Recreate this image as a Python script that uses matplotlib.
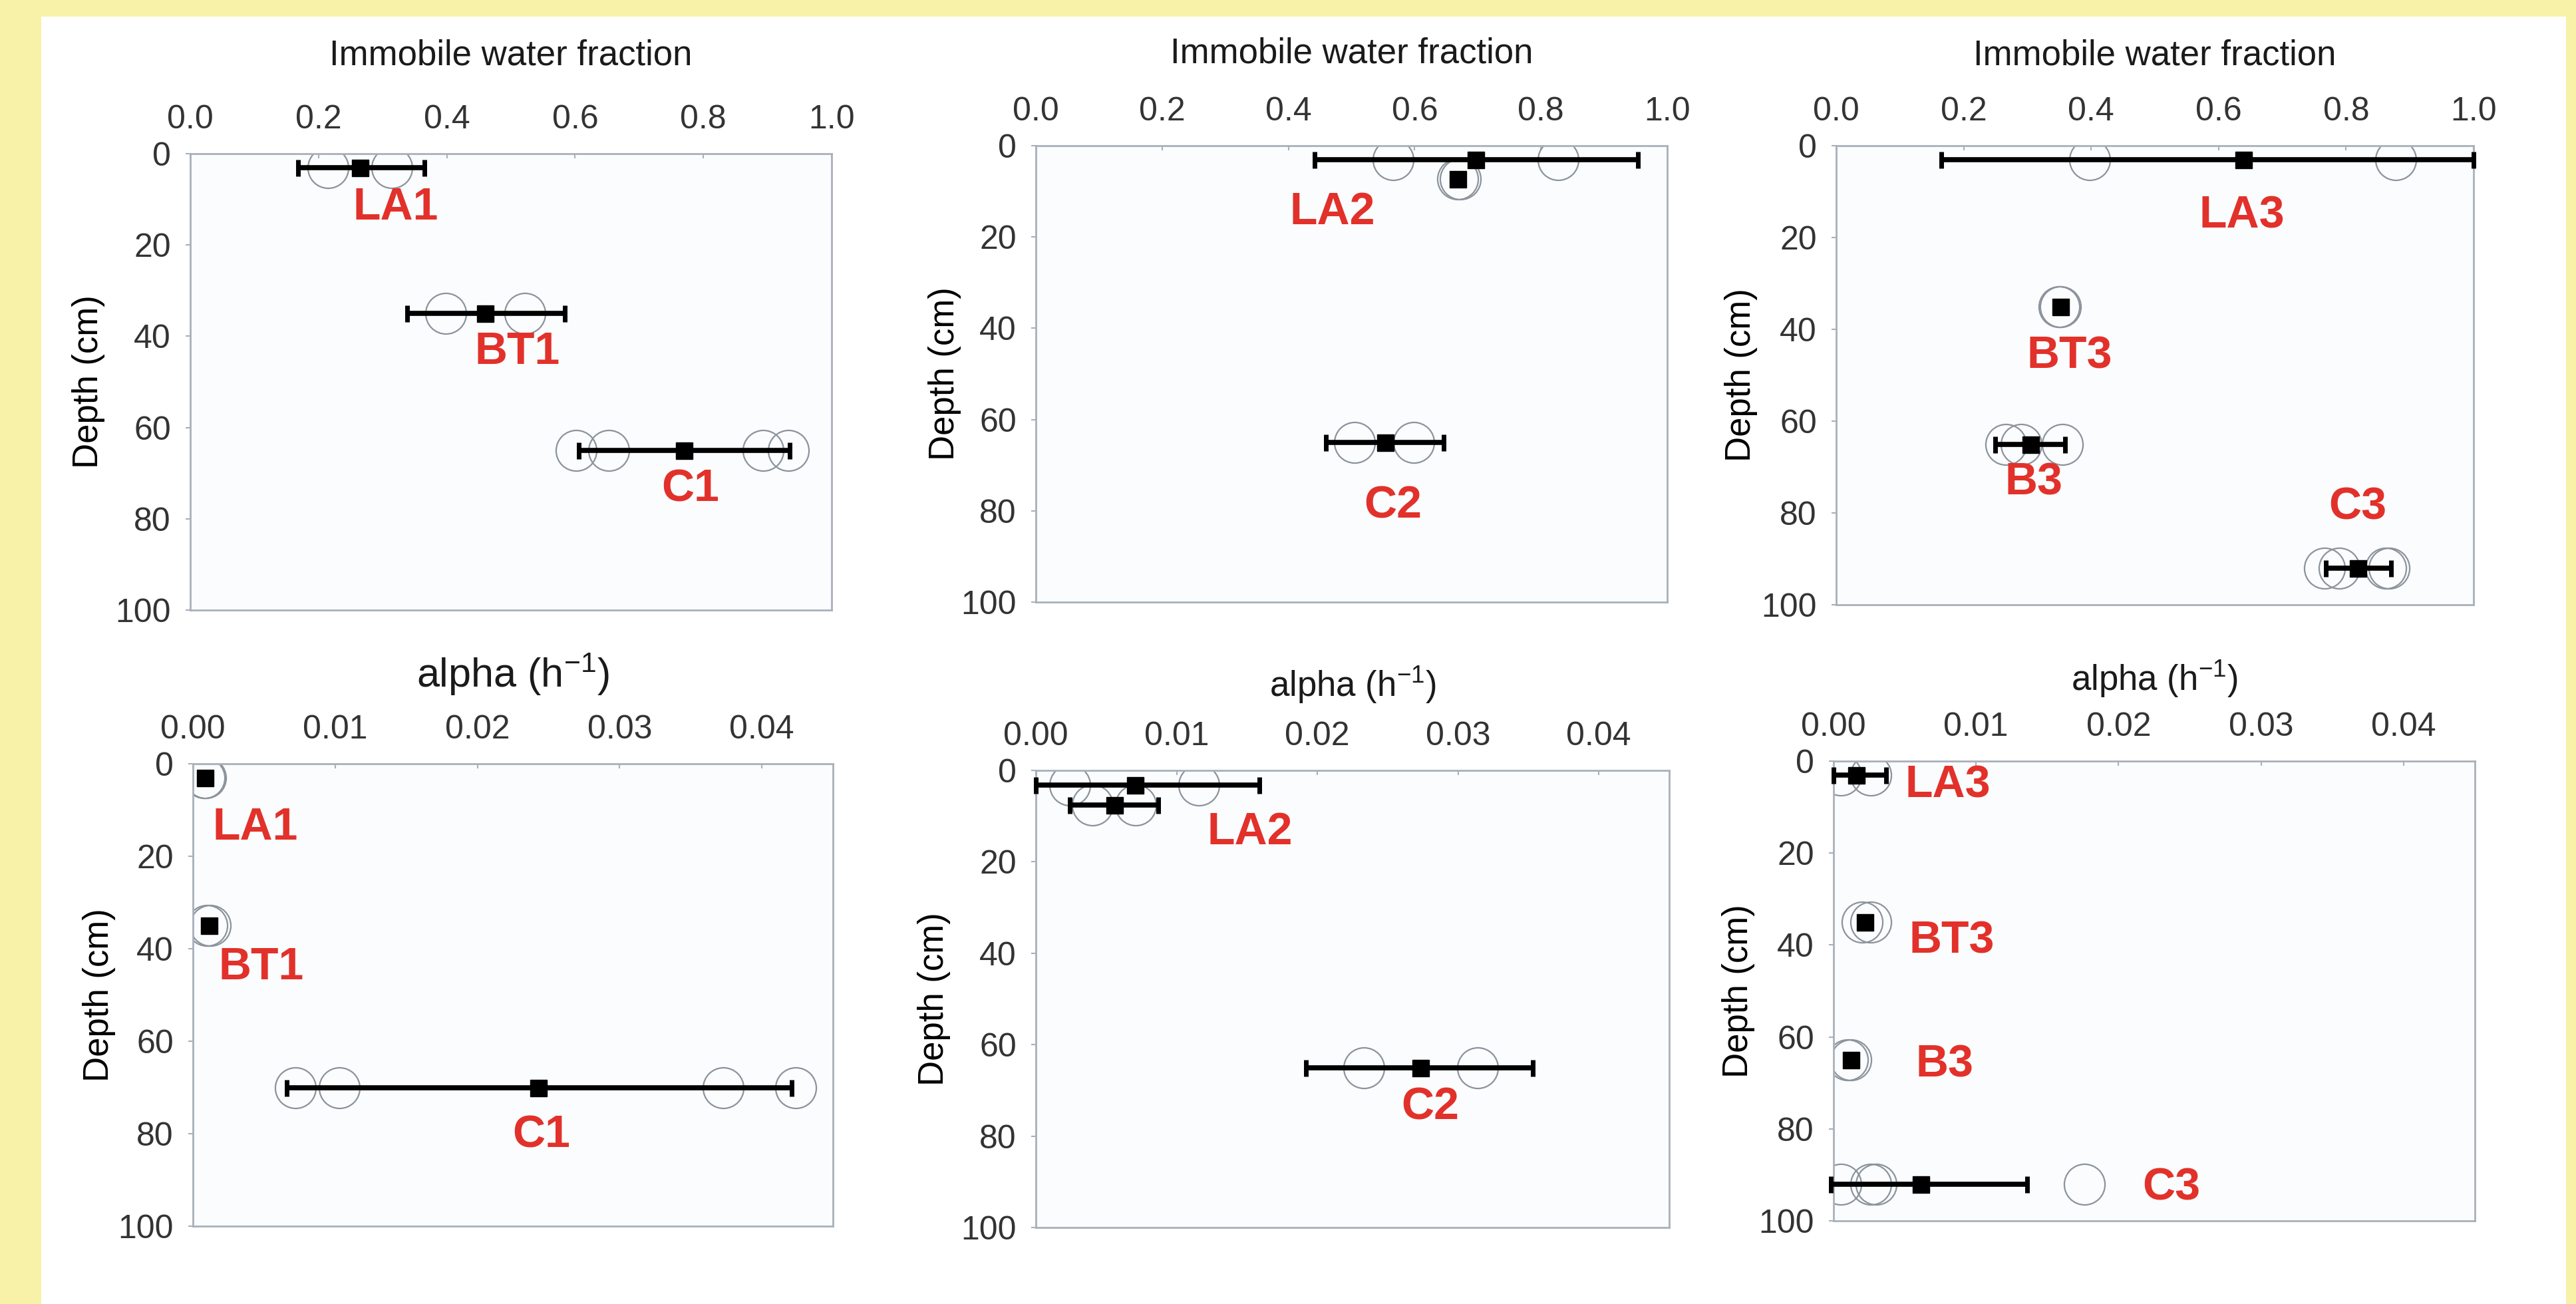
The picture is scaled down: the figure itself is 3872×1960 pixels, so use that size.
import matplotlib.pyplot as plt
from matplotlib.patches import Rectangle
from matplotlib.ticker import FormatStrFormatter

W, H = 3873, 1960
DPI = 100

# --- immobile water fraction (top row) ---
depth_1 = [3, 35, 65]
imf_1 = [0.265, 0.46, 0.77]
imf_lo_1 = [0.168, 0.338, 0.606]
imf_hi_1 = [0.365, 0.584, 0.935]
imf_reps_1 = [[0.215, 0.314], [0.398, 0.522], [0.602, 0.652, 0.893, 0.933]]
names_1 = ['LA1', 'BT1', 'C1']

depth_2 = [3, 7.3, 65]
imf_2 = [0.697, 0.668, 0.553]
imf_lo_2 = [0.441, 0.668, 0.459]
imf_hi_2 = [0.954, 0.668, 0.646]
imf_reps_2 = [[0.566, 0.827], [0.668, 0.672], [0.505, 0.598]]
names_2 = ['LA2', 'C2']

depth_3 = [3, 35, 65, 92]
imf_3 = [0.639, 0.352, 0.305, 0.818]
imf_lo_3 = [0.165, 0.352, 0.25, 0.768]
imf_hi_3 = [1.0, 0.352, 0.359, 0.871]
imf_reps_3 = [[0.398, 0.878], [0.35, 0.352], [0.266, 0.29, 0.355], [0.766, 0.789, 0.862, 0.867]]
names_3 = ['LA3', 'BT3', 'B3', 'C3']

# --- alpha (bottom row) ---
depth_4 = [3, 35, 70]
alpha_4 = [0.00085, 0.0011, 0.0243]
alpha_lo_4 = [0.00085, 0.0011, 0.0066]
alpha_hi_4 = [0.00085, 0.0011, 0.0421]
alpha_reps_4 = [[0.0008, 0.0009], [0.001, 0.0012], [0.0072, 0.0103, 0.0373, 0.0424]]
names_4 = ['LA1', 'BT1', 'C1']

depth_5 = [3.2, 7.6, 65]
alpha_5 = [0.00706, 0.0056, 0.0273]
alpha_lo_5 = [0.0, 0.0024, 0.0192]
alpha_hi_5 = [0.0159, 0.0087, 0.0353]
alpha_reps_5 = [[0.0024, 0.0116], [0.004, 0.0071], [0.0233, 0.0314]]
names_5 = ['LA2', 'C2']

depth_6 = [3, 35, 65, 92]
alpha_6 = [0.0016, 0.0022, 0.0012, 0.0061]
alpha_lo_6 = [0.0, 0.0022, 0.0012, -0.0002]
alpha_hi_6 = [0.0037, 0.0022, 0.0012, 0.0136]
alpha_reps_6 = [[0.0005, 0.0026], [0.002, 0.0026], [0.001, 0.0012], [0.0005, 0.0026, 0.003, 0.0176]]
names_6 = ['LA3', 'BT3', 'B3', 'C3']

# label anchors (layout only)
label_xy_1 = [(0.32, 11.8), (0.51, 43.5), (0.78, 73.5)]
label_xy_2 = [(0.47, 14.6), (0.566, 79)]
label_xy_3 = [(0.637, 15.3), (0.366, 45.9), (0.31, 73.4), (0.818, 78.7)]
label_xy_4 = [(0.0044, 13.8), (0.0048, 44), (0.0245, 80.4)]
label_xy_5 = [(0.0152, 13.5), (0.028, 73.7)]
label_xy_6 = [(0.008, 5.3), (0.0083, 39.1), (0.0078, 66), (0.0237, 92.9)]

YELLOW = '#f7f2a8'
FRAME = '#a8b0ba'
RED = '#e2312a'
RING = '#8c939c'

plt.rcParams['font.family'] = ['Liberation Sans', 'DejaVu Sans']
plt.rcParams['mathtext.fontset'] = 'custom'
plt.rcParams['mathtext.rm'] = 'Liberation Sans'
plt.rcParams['mathtext.default'] = 'regular'


def px_rect(l, t, r, b):
    return [l / W, 1 - b / H, (r - l) / W, (b - t) / H]


def draw_panel(rect, depth, mean, lo, hi, reps, names, label_xy,
               xlim, xticks, fmt, xlabel, xlabel_y, ylabel_x, xlabel_size=38):
    ax = fig.add_axes(px_rect(*rect))
    ax.set_facecolor('#fafcfd')

    for d, r in zip(depth, reps):
        ax.plot(r, [d] * len(r), 'o', ms=44, mfc='none', mec=RING, mew=1.6, zorder=2)

    for d, m, l, h in zip(depth, mean, lo, hi):
        if h - l > 0:
            ax.errorbar([m], [d], xerr=[[m - l], [h - m]], fmt='none', ecolor='black',
                        elinewidth=5.5, capsize=9, capthick=5, zorder=3, clip_on=False)
    ax.plot(mean, depth, 's', ms=18, color='black', zorder=4)

    for name, (lx, ly) in zip(names, label_xy):
        ax.text(lx, ly, name, color=RED, fontsize=49, fontweight='bold',
                ha='center', va='center', zorder=5)

    ax.set_xlim(*xlim)
    ax.set_ylim(100, 0)
    ax.set_xticks(xticks)
    ax.set_yticks([0, 20, 40, 60, 80, 100])
    ax.xaxis.set_major_formatter(FormatStrFormatter(fmt))
    ax.xaxis.tick_top()
    ax.xaxis.set_label_position('top')
    ax.tick_params(axis='x', direction='in', length=5, width=1.5, color=FRAME,
                   labelsize=36, labelcolor='#333333', pad=20)
    ax.tick_params(axis='y', direction='out', length=5, width=1.5, color=FRAME,
                   labelsize=36, labelcolor='#333333', pad=16)
    for s in ax.spines.values():
        s.set_color(FRAME)
        s.set_linewidth(2)

    ax.set_xlabel(xlabel, fontsize=xlabel_size, color='#1a1a1a')
    ax.xaxis.set_label_coords(0.5, xlabel_y)
    ax.xaxis.label.set_va('center')
    ax.set_ylabel('Depth (cm)', fontsize=38, color='black')
    ax.yaxis.set_label_coords(ylabel_x, 0.5)
    ax.yaxis.label.set_va('center')
    return ax


fig = plt.figure(figsize=(W / DPI, H / DPI), dpi=DPI, facecolor=YELLOW)
fig.patches.append(Rectangle((62 / W, 0), (3857 - 62) / W, (H - 25) / H,
                             transform=fig.transFigure, facecolor='white',
                             edgecolor='none', zorder=-1))

imf_ticks = [0.0, 0.2, 0.4, 0.6, 0.8, 1.0]
alpha_ticks = [0.0, 0.01, 0.02, 0.03, 0.04]
imf_label = 'Immobile water fraction'
alpha_label = 'alpha (h$^{-1}$)'

draw_panel((286, 231, 1250, 917), depth_1, imf_1, imf_lo_1, imf_hi_1, imf_reps_1,
           names_1, label_xy_1, (0, 1.0), imf_ticks, '%.1f', imf_label,
           1 + (231 - 83) / 686, -0.159)
draw_panel((1557, 219, 2506, 905), depth_2, imf_2, imf_lo_2, imf_hi_2, imf_reps_2,
           names_2, label_xy_2, (0, 1.0), imf_ticks, '%.1f', imf_label,
           1 + (219 - 80) / 686, -0.144)
draw_panel((2760, 219, 3718, 909), depth_3, imf_3, imf_lo_3, imf_hi_3, imf_reps_3,
           names_3, label_xy_3, (0, 1.0), imf_ticks, '%.1f', imf_label,
           1 + (219 - 83) / 690, -0.149)

draw_panel((290, 1148, 1252, 1843), depth_4, alpha_4, alpha_lo_4, alpha_hi_4, alpha_reps_4,
           names_4, label_xy_4, (0, 0.045), alpha_ticks, '%.2f', alpha_label,
           1 + (1148 - 1014) / 695, -0.147, xlabel_size=44)
draw_panel((1557, 1158, 2509, 1845), depth_5, alpha_5, alpha_lo_5, alpha_hi_5, alpha_reps_5,
           names_5, label_xy_5, (0, 0.045), alpha_ticks, '%.2f', alpha_label,
           1 + (1158 - 1030) / 687, -0.161)
draw_panel((2756, 1144, 3720, 1835), depth_6, alpha_6, alpha_lo_6, alpha_hi_6, alpha_reps_6,
           names_6, label_xy_6, (0, 0.045), alpha_ticks, '%.2f', alpha_label,
           1 + (1144 - 1021) / 691, -0.148)

fig.savefig('out.png', dpi=DPI, facecolor=YELLOW)
